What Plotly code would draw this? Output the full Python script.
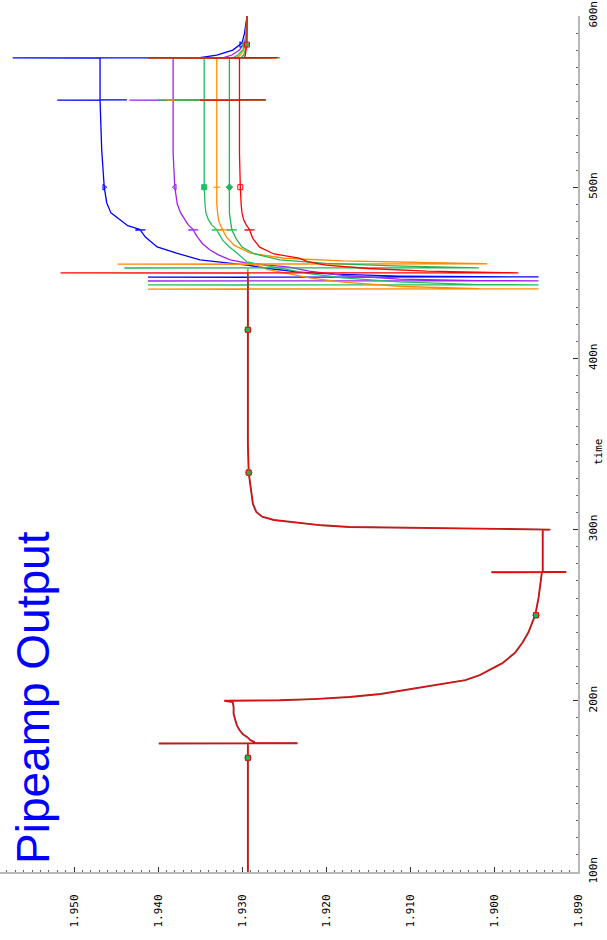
import plotly.graph_objects as go

# ---------------- data (time in ns, value in V) ----------------
t_common = [100, 175.0, 175.1, 175.2, 175.4, 175.9, 177.0, 178.9, 180.5, 182.9, 185.5, 188.8, 192.5, 196.4,
            199.3, 200.0, 200.3, 201.0, 202.2, 204.0, 207.5, 210.0, 212.1, 215.0, 218.0, 222.0, 228.0,
            234.0, 240.0, 250.0, 260.0, 266.5, 275.0, 275.1, 275.2, 275.3, 299.9, 300.0, 300.4, 301.0,
            301.5, 302.5, 303.9, 305.6, 307.5, 310.3, 315.0, 323.1, 333.1, 350.0, 440.0]
v_common = [1.9293, 1.9293, 1.9399, 1.9234, 1.9287, 1.9285, 1.9290, 1.9294, 1.9299, 1.9303, 1.9306, 1.9308,
            1.9310, 1.9310, 1.9311, 1.9321, 1.9255, 1.9215, 1.9172, 1.9135, 1.9093, 1.9058, 1.9034, 1.9017,
            1.9005, 1.8990, 1.8975, 1.8966, 1.8959, 1.8951, 1.8947, 1.8945, 1.8943, 1.9003, 1.8914, 1.8942,
            1.8942, 1.8933, 1.8994, 1.9113, 1.9172, 1.9205, 1.9232, 1.9262, 1.9276, 1.9283, 1.9287, 1.9289,
            1.9292, 1.9293, 1.9293]

blue_t = [440.0, 447.4, 447.5, 447.6, 447.7, 448.1, 449.2, 450.4, 452.5, 454.5, 457.5, 461.5, 465.1, 470.9,
          474.9, 475.0, 475.1, 475.2, 477.5, 480.8, 485.0, 490.8, 500.0, 521.7, 550.8, 550.9, 551.0, 551.1,
          575.4, 575.5, 575.6, 575.7, 577.2, 580.1, 584.2, 590.0, 600.0]
blue_v = [1.9293, 1.9293, 1.9412, 1.8947, 1.9018, 1.9113, 1.9190, 1.9232, 1.9268, 1.9294, 1.9350, 1.9378,
          1.9401, 1.9415, 1.9421, 1.9427, 1.9415, 1.9421, 1.9436, 1.9445, 1.9456, 1.9461, 1.9464, 1.9467,
          1.9469, 1.9520, 1.9437, 1.9469, 1.9469, 1.9573, 1.9280, 1.9350, 1.9330, 1.9311, 1.9300, 1.9297,
          1.9294]

purple_t = [440.0, 445.1, 445.2, 445.3, 445.4, 446.3, 448.5, 451.0, 453.3, 455.7, 457.5, 460.5, 463.3, 467.0,
            470.9, 474.9, 475.0, 475.1, 475.2, 478.0, 481.0, 485.0, 490.0, 500.0, 520.0, 550.8, 550.9,
            551.0, 551.1, 575.4, 575.5, 575.6, 575.7, 577.2, 580.1, 584.2, 590.0, 600.0]
purple_v = [1.9293, 1.9293, 1.9412, 1.8947, 1.9018, 1.9113, 1.9180, 1.9220, 1.9244, 1.9294, 1.9314, 1.9328,
            1.9338, 1.9347, 1.9353, 1.9358, 1.9364, 1.9352, 1.9358, 1.9364, 1.9368, 1.9373, 1.9377, 1.9380,
            1.9382, 1.9382, 1.9434, 1.9272, 1.9382, 1.9382, 1.9412, 1.9270, 1.9322, 1.9312, 1.9303, 1.9297,
            1.9295, 1.9294]

green1_t = [440.0, 442.8, 442.9, 443.0, 443.1, 444.7, 447.0, 449.5, 451.6, 456.3, 461.5, 465.5, 469.1, 474.9,
            475.0, 475.1, 475.2, 478.0, 481.0, 485.0, 490.0, 500.0, 520.0, 550.8, 550.9, 551.0, 551.1,
            575.4, 575.5, 575.6, 575.7, 577.2, 580.1, 584.2, 590.0, 600.0]
green1_v = [1.9293, 1.9293, 1.9412, 1.8947, 1.9018, 1.9113, 1.9180, 1.9220, 1.9244, 1.9294, 1.9306, 1.9316,
            1.9323, 1.9330, 1.9336, 1.9324, 1.9330, 1.9336, 1.9340, 1.9343, 1.9344, 1.9345, 1.9345, 1.9345,
            1.9400, 1.9272, 1.9345, 1.9345, 1.9413, 1.9265, 1.9310, 1.9305, 1.9299, 1.9296, 1.9295, 1.9294]

orange_t = [440.0, 440.4, 440.5, 440.6, 440.7, 442.0, 444.5, 447.0, 449.2, 452.0, 455.0, 455.1, 455.2, 455.3,
            456.0, 457.0, 458.5, 461.5, 466.0, 470.5, 474.9, 475.0, 475.1, 475.2, 478.0, 481.0, 485.0, 490.0,
            500.0, 520.0, 550.8, 550.9, 551.0, 551.1, 575.4, 575.5, 575.6, 575.7, 577.2, 580.1, 584.2, 590.0,
            600.0]
orange_v = [1.9293, 1.9293, 1.9412, 1.8947, 1.9018, 1.9110, 1.9180, 1.9220, 1.9243, 1.9270, 1.9285, 1.9448,
            1.9008, 1.9012, 1.9100, 1.9180, 1.9250, 1.9290, 1.9309, 1.9318, 1.9323, 1.9329, 1.9317, 1.9323,
            1.9326, 1.9328, 1.9329, 1.9330, 1.9330, 1.9330, 1.9330, 1.9390, 1.9272, 1.9330, 1.9330, 1.9410,
            1.9262, 1.9306, 1.9302, 1.9298, 1.9295, 1.9295, 1.9294]

green2_t = [440.0, 452.7, 452.8, 452.9, 453.0, 454.0, 455.5, 457.5, 461.0, 465.0, 470.0, 474.9, 475.0, 475.1,
            475.2, 478.0, 481.0, 485.0, 490.0, 500.0, 520.0, 550.8, 550.9, 551.0, 551.1, 575.4, 575.5, 575.6,
            575.7, 577.2, 580.1, 584.2, 590.0, 600.0]
green2_v = [1.9293, 1.9293, 1.9440, 1.9018, 1.9030, 1.9120, 1.9200, 1.9255, 1.9285, 1.9300, 1.9307, 1.9312,
            1.9318, 1.9306, 1.9312, 1.9313, 1.9314, 1.9315, 1.9315, 1.9315, 1.9315, 1.9315, 1.9380, 1.9272,
            1.9315, 1.9315, 1.9413, 1.9255, 1.9301, 1.9298, 1.9296, 1.9295, 1.9294, 1.9294]

red_t = [440.0, 449.8, 449.9, 450.0, 450.1, 451.0, 452.5, 454.5, 456.5, 458.6, 461.0, 465.0, 470.0, 474.9,
         475.0, 475.1, 475.2, 478.0, 481.0, 485.0, 490.0, 500.0, 520.0, 550.8, 550.9, 551.0, 551.1, 575.4,
         575.5, 575.6, 575.7, 577.2, 580.1, 584.2, 590.0, 600.0]
red_v = [1.9293, 1.9293, 1.9516, 1.8971, 1.8990, 1.9080, 1.9150, 1.9200, 1.9222, 1.9232, 1.9262, 1.9279,
         1.9287, 1.9291, 1.9297, 1.9285, 1.9291, 1.9295, 1.9298, 1.9300, 1.9301, 1.9302, 1.9303, 1.9303,
         1.9350, 1.9272, 1.9303, 1.9303, 1.9412, 1.9258, 1.9297, 1.9296, 1.9295, 1.9294, 1.9294, 1.9294]

marker_t = [166.7, 250.0, 333.3, 416.7, 500.0, 583.3]
blue_mv = [1.9293, 1.8950, 1.9292, 1.9293, 1.9464, 1.9301]
purple_mv = [1.9293, 1.8950, 1.9292, 1.9293, 1.9380, 1.9297]
green1_mv = [1.9293, 1.8950, 1.9292, 1.9293, 1.9345, 1.9296]
orange_mv = [1.9293, 1.8950, 1.9292, 1.9293, 1.9330, 1.9295]
green2_mv = [1.9293, 1.8950, 1.9292, 1.9293, 1.9315, 1.9295]
red_mv = [1.9293, 1.8950, 1.9292, 1.9293, 1.9302, 1.9294]

time_ticks = [100, 200, 300, 400, 500, 600]
time_labels = ["100n", "200n", "300n", "400n", "500n", "600n"]
value_ticks = [1.890, 1.900, 1.910, 1.920, 1.930, 1.940, 1.950]
value_labels = ["1.890", "1.900", "1.910", "1.920", "1.930", "1.940", "1.950"]

# ---------------- figure ----------------
fig = go.Figure()

fig.add_trace(go.Scatter(x=v_common, y=t_common, mode="lines",
                         line=dict(color="#a52a2a", width=1.9), hoverinfo="skip"))

series = [
    (blue_t, blue_v, blue_mv, "#0000ff", "triangle-right-open"),
    (purple_t, purple_v, purple_mv, "#a020f0", "triangle-left-open"),
    (green1_t, green1_v, green1_mv, "#1fc060", "square"),
    (orange_t, orange_v, orange_mv, "#ff8c00", "line-ew-open"),
    (green2_t, green2_v, green2_mv, "#22b455", "diamond"),
    (red_t, red_v, red_mv, "#ff0000", "square-open"),
]
for tt, vv, mv, col, sym in series:
    fig.add_trace(go.Scatter(x=vv, y=tt, mode="lines", line=dict(color=col, width=1.3),
                             hoverinfo="skip"))

fig.add_trace(go.Scatter(x=v_common, y=t_common, mode="lines",
                         line=dict(color="#ff0000", width=0.7), hoverinfo="skip"))

for tt, vv, mv, col, sym in series:
    fig.add_trace(go.Scatter(x=mv, y=marker_t, mode="markers",
                             marker=dict(symbol=sym, size=5, color=col, line=dict(color=col, width=1)),
                             hoverinfo="skip"))

tickfont = dict(family="DejaVu Sans Mono", size=11, color="#000000")

fig.update_layout(
    width=607, height=940,
    margin=dict(l=0, r=29, t=16, b=68, autoexpand=False),
    paper_bgcolor="white", plot_bgcolor="white",
    showlegend=False,
    xaxis=dict(range=[1.95881, 1.890], tickvals=value_ticks, ticktext=value_labels,
               tickangle=-90, tickfont=tickfont, ticks="inside", ticklen=5, tickcolor="#333333",
               showline=True, linecolor="#b8b8b8", linewidth=2, showgrid=False, zeroline=False,
               ticklabelstandoff=16, automargin=False, ticklabeloverflow="allow",
               minor=dict(dtick=0.001, ticks="inside", ticklen=2, tickcolor="#666666", showgrid=False)),
    yaxis=dict(range=[100, 600], side="right", tickvals=time_ticks, ticktext=time_labels,
               tickangle=-90, tickfont=tickfont, ticks="inside", ticklen=5, tickcolor="#333333",
               showline=True, linecolor="#b8b8b8", linewidth=2, showgrid=False, zeroline=False,
               ticklabelstandoff=4, automargin=False, ticklabeloverflow="allow",
               minor=dict(dtick=10, ticks="inside", ticklen=2, tickcolor="#666666", showgrid=False)),
)
fig.add_annotation(text="Pipeamp Output", textangle=-90, x=33 / 578, y=(872 - 698) / 856,
                   xref="paper", yref="paper", showarrow=False, xanchor="center", yanchor="middle",
                   font=dict(family="Liberation Sans", size=46, color="#0000ff"))
fig.add_annotation(text="time", textangle=-90, x=598 / 578, y=(872 - 452) / 856,
                   xref="paper", yref="paper", showarrow=False, xanchor="center", yanchor="middle",
                   font=dict(family="DejaVu Sans Mono", size=11, color="#000000"))

# remove the browser's default 8px page margin so the figure sits at the window origin
fig.write_html("out.html", config={"displayModeBar": False},
               post_script="document.body.style.margin='0px';")
